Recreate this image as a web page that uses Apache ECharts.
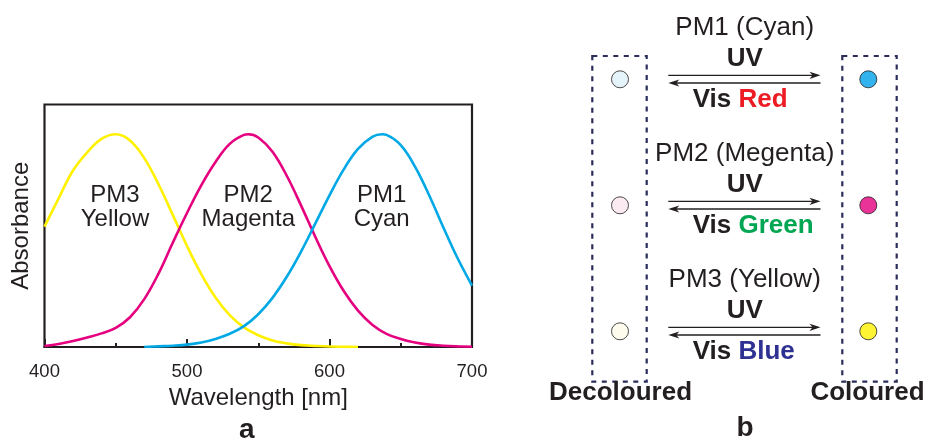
<!DOCTYPE html>
<html>
<head>
<meta charset="utf-8">
<script src="https://cdn.jsdelivr.net/npm/echarts@6/dist/echarts.min.js"></script>
<style>
  html, body { margin: 0; padding: 0; background: #ffffff; }
  #chart { width: 926px; height: 442px; }
</style>
</head>
<body>
<div id="chart"></div>
<script>
// ---- Panel a: absorption spectra of the three photochromic molecules ----
const xTicks = [400, 500, 600, 700];

const yellowNm  = [400, 410, 420, 430, 440, 450, 460, 470, 480, 490, 500, 510, 520, 530, 540, 550, 560, 570, 580, 590, 600, 610, 620];
const yellowAbs = [0.566, 0.70, 0.83, 0.915, 0.978, 1.0, 0.971, 0.888, 0.765, 0.621, 0.475, 0.343, 0.233, 0.150, 0.092, 0.055, 0.031, 0.017, 0.009, 0.005, 0.002, 0.001, 0];

const magentaNm  = [400, 410, 420, 430, 440, 450, 460, 470, 480, 490, 500, 510, 520, 530, 540, 543, 550, 560, 570, 580, 590, 600, 610, 620, 630, 640, 650, 660, 670, 680, 690, 700];
const magentaAbs = [0.005, 0.014, 0.028, 0.045, 0.064, 0.09, 0.14, 0.225, 0.345, 0.49, 0.63, 0.76, 0.87, 0.955, 0.997, 1.0, 0.985, 0.918, 0.805, 0.666, 0.518, 0.38, 0.263, 0.171, 0.105, 0.062, 0.038, 0.021, 0.011, 0.006, 0.003, 0.001];

const cyanNm  = [470, 480, 490, 500, 510, 520, 530, 540, 550, 560, 570, 580, 590, 600, 610, 620, 630, 637, 640, 650, 660, 670, 680, 690, 700];
const cyanAbs = [0.0, 0.003, 0.006, 0.011, 0.021, 0.038, 0.062, 0.098, 0.154, 0.231, 0.33, 0.448, 0.58, 0.713, 0.835, 0.931, 0.988, 1.0, 0.997, 0.949, 0.848, 0.712, 0.561, 0.416, 0.289];

const curveNames  = ['PM3', 'PM2', 'PM1'];
const curveLabels = ['PM3\nYellow', 'PM2\nMagenta', 'PM1\nCyan'];
const labelAt     = [[449.5, 0.655], [543, 0.655], [636.6, 0.655]];

// ---- Panel b: switching scheme ----
const compounds   = ['PM1 (Cyan)', 'PM2 (Megenta)', 'PM3 (Yellow)'];
const lightNames  = ['Red', 'Green', 'Blue'];
const lightColors = ['#ed1c24', '#00a651', '#2e3192'];
const stateNames  = ['Decoloured', 'Coloured'];
const decolouredFill = ['#dff1fa', '#fbe5f0', '#fefbe8'];
const colouredFill   = ['#00a0e9', '#e4007f', '#fff100'];

const INK = '#231f20';
const NAVY = '#2a2d5a';
const FONT = '"Liberation Sans", Arial, Helvetica, sans-serif';
const lineColors = ['#fff100', '#e4007f', '#00a9e6'];

function pairs(xs, ys) { return xs.map((x, i) => [x, ys[i]]); }

const spectra = [pairs(yellowNm, yellowAbs), pairs(magentaNm, magentaAbs), pairs(cyanNm, cyanAbs)];

const curveSeries = spectra.map((d, i) => ({
  name: curveNames[i],
  type: 'line',
  xAxisIndex: 0,
  yAxisIndex: 0,
  data: d,
  smooth: 0.4,
  showSymbol: false,
  symbol: 'none',
  lineStyle: { color: lineColors[i], width: 2.6 },
  z: 3,
  markPoint: {
    symbol: 'rect',
    symbolSize: 1,
    itemStyle: { color: 'rgba(0,0,0,0)' },
    label: {
      show: true,
      position: 'inside',
      formatter: curveLabels[i],
      fontSize: 24,
      lineHeight: 24,
      color: INK,
      fontFamily: FONT
    },
    data: [{ coord: labelAt[i] }]
  }
}));

// Circles for the two states of each compound (column = state, row = compound)
const stateDots = [];
compounds.forEach((c, r) => {
  stateDots.push({ value: [0, r], itemStyle: { color: decolouredFill[r] } });
  stateDots.push({ value: [1, r], itemStyle: { color: colouredFill[r] } });
});

// Layout constants for panel b
const ROW_TOP = 79.3, ROW_STEP = 126;
const COL_LEFT = 620, COL_RIGHT = 868.3;
const ARROW_L = 668.3, ARROW_R = 820.5;
const TEXT_CX = 744.7, VIS_X = 692.7;

const graphics = [];

// dashed frames around each state column
[[592.3, 56], [842.3, 56]].forEach(([x, y]) => {
  graphics.push({
    type: 'rect',
    shape: { x: x, y: y, width: 54.4, height: 325.7 },
    style: { fill: 'none', stroke: NAVY, lineWidth: 2.2, lineDash: [5, 5.5] },
    z: 1
  });
});

compounds.forEach((name, r) => {
  const yc = ROW_TOP + r * ROW_STEP;
  graphics.push({
    type: 'text',
    style: { text: name, x: TEXT_CX, y: yc - 51.8, align: 'center', verticalAlign: 'middle',
             font: '26px ' + FONT, fill: INK }
  });
  graphics.push({
    type: 'text',
    style: { text: 'UV', x: TEXT_CX, y: yc - 20.3, align: 'center', verticalAlign: 'middle',
             font: 'bold 26px ' + FONT, fill: INK }
  });
  graphics.push({
    type: 'text',
    style: {
      text: '{v|Vis }{c|' + lightNames[r] + '}',
      x: VIS_X, y: yc + 20.7, align: 'left', verticalAlign: 'middle',
      rich: {
        v: { fontSize: 26, fontWeight: 'bold', fontFamily: FONT, fill: INK },
        c: { fontSize: 26, fontWeight: 'bold', fontFamily: FONT, fill: lightColors[r] }
      }
    }
  });
  // forward (UV) arrow
  const yf = yc - 4, yb = yc + 3.7;
  graphics.push({ type: 'line', shape: { x1: ARROW_L, y1: yf, x2: ARROW_R - 4, y2: yf },
                  style: { stroke: INK, lineWidth: 1.3 } });
  graphics.push({ type: 'polygon',
                  shape: { points: [[ARROW_R, yf], [ARROW_R - 11, yf - 3.6], [ARROW_R - 8, yf], [ARROW_R - 11, yf + 3.6]] },
                  style: { fill: INK } });
  // backward (visible light) arrow
  graphics.push({ type: 'line', shape: { x1: ARROW_L + 4, y1: yb, x2: ARROW_R, y2: yb },
                  style: { stroke: INK, lineWidth: 1.3 } });
  graphics.push({ type: 'polygon',
                  shape: { points: [[ARROW_L, yb], [ARROW_L + 11, yb - 3.6], [ARROW_L + 8, yb], [ARROW_L + 11, yb + 3.6]] },
                  style: { fill: INK } });
});

graphics.push({ type: 'text', style: { text: stateNames[0], x: 620.5, y: 393, align: 'center', verticalAlign: 'middle',
                font: 'bold 26px ' + FONT, fill: INK }, z: 5 });
graphics.push({ type: 'text', style: { text: stateNames[1], x: 867.5, y: 393, align: 'center', verticalAlign: 'middle',
                font: 'bold 26px ' + FONT, fill: INK }, z: 5 });

// panel letters
graphics.push({ type: 'text', style: { text: 'a', x: 246.7, y: 430, align: 'center', verticalAlign: 'middle',
                font: 'bold 28px ' + FONT, fill: INK } });
graphics.push({ type: 'text', style: { text: 'b', x: 745, y: 428, align: 'center', verticalAlign: 'middle',
                font: 'bold 28px ' + FONT, fill: INK } });

const chart = echarts.init(document.getElementById('chart'), null, { renderer: 'canvas' });

chart.setOption({
  animation: false,
  backgroundColor: '#ffffff',
  tooltip: { show: false },
  grid: [
    { left: 44.5, top: 104.5, width: 427.5, height: 242.5, show: true, borderColor: INK, borderWidth: 2.2,
      backgroundColor: 'rgba(0,0,0,0)', containLabel: false, outerBoundsMode: 'none' },
    { left: COL_LEFT, top: ROW_TOP, width: COL_RIGHT - COL_LEFT, height: ROW_STEP * 2,
      show: false, containLabel: false, outerBoundsMode: 'none' }
  ],
  xAxis: [
    {
      type: 'value', gridIndex: 0, min: xTicks[0], max: xTicks[xTicks.length - 1], interval: 100,
      axisLine: { show: true, lineStyle: { color: INK, width: 2.2 } },
      axisTick: { show: true, inside: true, length: 8, lineStyle: { color: INK, width: 2 } },
      minorTick: { show: true, splitNumber: 2, length: 4, lineStyle: { color: INK, width: 2 } },
      splitLine: { show: false },
      minorSplitLine: { show: false },
      axisLabel: { fontSize: 18.5, color: INK, margin: 15, fontFamily: FONT },
      name: 'Wavelength [nm]', nameLocation: 'middle', nameGap: 33,
      nameTextStyle: { fontSize: 24, color: INK, fontFamily: FONT }
    },
    { type: 'value', gridIndex: 1, min: 0, max: 1, show: false }
  ],
  yAxis: [
    {
      type: 'value', gridIndex: 0, min: 0, max: 1.14,
      axisLine: { show: false }, axisTick: { show: false }, axisLabel: { show: false },
      splitLine: { show: false },
      name: 'Absorbance', nameLocation: 'middle', nameGap: 11,
      nameTextStyle: { fontSize: 24, color: INK, fontFamily: FONT }
    },
    { type: 'value', gridIndex: 1, min: 0, max: 2, inverse: true, show: false }
  ],
  series: curveSeries.concat([{
    type: 'scatter',
    xAxisIndex: 1,
    yAxisIndex: 1,
    symbol: 'circle',
    symbolSize: 17,
    data: stateDots,
    itemStyle: { borderColor: INK, borderWidth: 1 },
    z: 4
  }]),
  graphic: graphics
});
</script>
</body>
</html>
